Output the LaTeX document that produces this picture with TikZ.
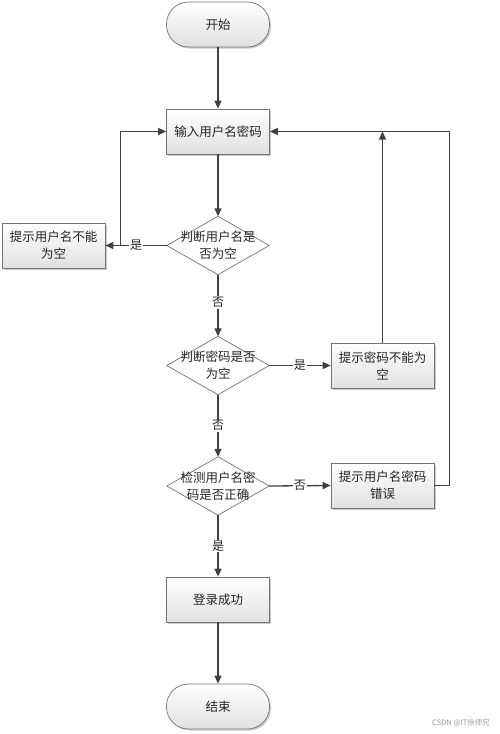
\documentclass[tikz,border=0pt]{standalone}
\usepackage{fontspec}
\setmainfont{Noto Sans CJK SC}
\usetikzlibrary{arrows.meta,shadows,calc}
\begin{document}
\begin{tikzpicture}[x=1pt,y=-1pt,
  every node/.style={font=\fontsize{12.5}{17}\selectfont, text=black!85, align=center, inner sep=0pt},
  procbox/.style={draw=black!55, line width=0.7pt, top color=white, bottom color=black!12,
    minimum width=103pt, minimum height=45pt,
    drop shadow={shadow xshift=1.5pt, shadow yshift=-1.5pt, fill=black!35, opacity=0.6}},
  termbox/.style={procbox, rounded corners=22pt},
  decbox/.style={minimum width=102pt, minimum height=58pt},
  decline/.style={draw=black!55, line width=0.7pt, fill=white},
  flow/.style={draw=black!75, line width=1.3pt, -{Triangle[length=8pt,width=7pt]}},
  lbl/.style={fill=white, inner sep=1pt, font=\fontsize{12}{14}\selectfont}
]
\useasboundingbox (0,0) rectangle (500,734);

\node[termbox] (start) at (218,24.5) {开始};
\node[procbox] (input) at (218,131.5) {输入用户名密码};
\node[decbox] (d1) at (218,245.5) {};
\node[procbox] (warn1) at (53.5,245.5) {提示用户名不能\\为空};
\node[decbox] (d2) at (218,365.5) {};
\node[procbox] (warn2) at (382.5,365.5) {提示密码不能为\\空};
\node[decbox] (d3) at (218,486) {};
\node[procbox] (warn3) at (382.5,485.5) {提示用户名密码\\错误};
\node[procbox] (ok) at (218,599.5) {登录成功};
\node[termbox] (end) at (218,706.5) {结束};

\path[decline] (d1.north) -- (d1.east) -- (d1.south) -- (d1.west) -- cycle;
\path[decline] (d2.north) -- (d2.east) -- (d2.south) -- (d2.west) -- cycle;
\path[decline] (d3.north) -- (d3.east) -- (d3.south) -- (d3.west) -- cycle;
\node (d1t) at (d1) {判断用户名是\\否为空};
\node (d2t) at (d2) {判断密码是否\\为空};
\node (d3t) at (d3) {检测用户名密\\码是否正确};

\draw[flow] (start) -- (input);
\draw[flow] (input) -- (d1.north);
\draw[flow] (d1.west) -- node[lbl]{是} (warn1.east);
\draw[flow] (warn1.east) -- ++(15,0) |- (input.west);
\draw[flow] (d1.south) -- node[lbl, pos=0.45]{否} (d2.north);
\draw[flow] (d2.east) -- node[lbl]{是} (warn2.west);
\draw[flow] (warn2.north) -- (warn2.north |- input.east);
\draw[flow] (d2.south) -- node[lbl]{否} (d3.north);
\draw[flow] (d3.east) -- node[lbl]{否} (warn3.west);
\draw[flow] (warn3.east) -- ++(15,0) |- (input.east);
\draw[flow] (d3.south) -- node[lbl]{是} (ok.north);
\draw[flow] (ok) -- (end);

\node[font=\fontsize{7.5}{9}\selectfont, text=black!40] (wm) at (461,723) {CSDN @IT徐师兄};
\end{tikzpicture}
\end{document}
